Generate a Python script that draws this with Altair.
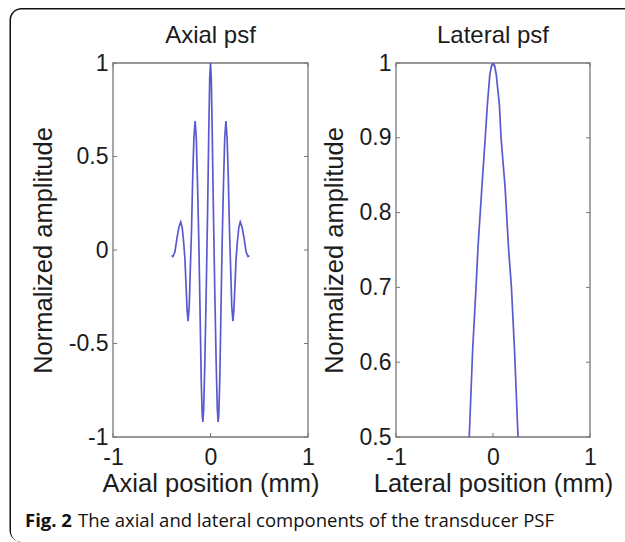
import altair as alt
import pandas as pd

# Axial point-spread function: position (mm) and normalized amplitude
axial_pos = [-0.400, -0.385, -0.365, -0.345, -0.325, -0.305, -0.290, -0.275,
             -0.262, -0.250, -0.240, -0.230, -0.218, -0.208, -0.195, -0.182,
             -0.170, -0.158, -0.146, -0.133, -0.120, -0.108, -0.095, -0.085,
             -0.078, -0.070, -0.058, -0.045, -0.030, -0.018, -0.008, 0.000,
             0.008, 0.018, 0.030, 0.045, 0.058, 0.070, 0.078, 0.085,
             0.095, 0.108, 0.120, 0.133, 0.146, 0.158, 0.170, 0.182,
             0.195, 0.208, 0.218, 0.230, 0.240, 0.250, 0.262, 0.275,
             0.290, 0.305, 0.325, 0.345, 0.365, 0.385, 0.400]
axial_amp = [-0.03, -0.035, -0.01, 0.06, 0.12, 0.15, 0.12, 0.04,
             -0.05, -0.20, -0.32, -0.38, -0.30, -0.12, 0.10, 0.40,
             0.60, 0.69, 0.60, 0.35, 0.05, -0.30, -0.70, -0.88,
             -0.92, -0.85, -0.60, -0.25, 0.20, 0.62, 0.92, 1.00,
             0.92, 0.62, 0.20, -0.25, -0.60, -0.85, -0.92, -0.88,
             -0.70, -0.30, 0.05, 0.35, 0.60, 0.69, 0.60, 0.40,
             0.10, -0.12, -0.30, -0.38, -0.32, -0.20, -0.05, 0.04,
             0.12, 0.15, 0.12, 0.06, -0.01, -0.035, -0.03]

# Lateral point-spread function: position (mm) and normalized amplitude
lateral_pos = [-0.245, -0.210, -0.175, -0.155, -0.115, -0.080, -0.058, -0.033, -0.015, 0.000,
               0.016, 0.034, 0.066, 0.083, 0.125, 0.160, 0.190, 0.222, 0.258]
lateral_amp = [0.50, 0.616, 0.70, 0.753, 0.833, 0.90, 0.944, 0.984, 0.997, 1.00,
               0.997, 0.984, 0.944, 0.90, 0.833, 0.753, 0.70, 0.616, 0.50]

x_ticks = [-1, 0, 1]
axial_yticks = [-1, -0.5, 0, 0.5, 1]
lateral_yticks = [0.5, 0.6, 0.7, 0.8, 0.9, 1]

caption_bold = "Fig. 2"
caption_text = "The axial and lateral components of the transducer PSF"

# styling
W_L, W_R, H = 195, 194, 374
LINE = "#5a5ad0"
FRAME = "#787878"
TEXT = "#1c1c1c"
FONT = "Liberation Sans"
TICK_FS = 23
TITLE_FS = 24
LABEL_FS = 25.5


def x_axis(title):
    return alt.Axis(values=x_ticks, title=title, grid=False, domain=False, ticks=False,
                    labelExpr="'' + datum.value", labelFlush=False, labelOverlap=False,
                    labelPadding=9, titlePadding=2, labelFontSize=TICK_FS,
                    titleFontSize=LABEL_FS, labelFont=FONT, titleFont=FONT,
                    titleFontWeight="normal", labelColor=TEXT, titleColor=TEXT, zindex=1)


def y_axis(values):
    return alt.Axis(values=values, title="Normalized amplitude", grid=False, domain=False,
                    ticks=False, labelExpr="'' + datum.value", labelFlush=False,
                    labelOverlap=False, labelPadding=5, titlePadding=12,
                    labelFontSize=TICK_FS, titleFontSize=LABEL_FS, labelFont=FONT,
                    titleFont=FONT, titleFontWeight="normal", labelColor=TEXT,
                    titleColor=TEXT, zindex=1)


def panel(df, ydomain, yticks, xtitle, title, width, extras=()):
    xs = alt.Scale(domain=[-1, 1], nice=False, zero=False)
    ys = alt.Scale(domain=ydomain, nice=False, zero=False)
    xa = x_axis(xtitle)
    ya = y_axis(yticks)
    one = pd.DataFrame({"k": [0]})

    frame = alt.Chart(one).mark_rect(fill=None, stroke=FRAME, strokeWidth=1.3).encode(
        x=alt.value(0), x2=alt.value(width), y=alt.value(0), y2=alt.value(H))

    heading = alt.Chart(pd.DataFrame({"t": [title]})).mark_text(
        font=FONT, fontSize=TITLE_FS, align="center", baseline="alphabetic", color=TEXT
    ).encode(text="t:N", x=alt.value(width / 2), y=alt.value(-20))

    yt = pd.DataFrame({"amp": yticks})
    xt = pd.DataFrame({"pos": x_ticks})
    ytick_l = alt.Chart(yt).mark_rule(color=FRAME, strokeWidth=1).encode(
        y=alt.Y("amp:Q", scale=ys, axis=ya), x=alt.value(0), x2=alt.value(4))
    ytick_r = alt.Chart(yt).mark_rule(color=FRAME, strokeWidth=1).encode(
        y=alt.Y("amp:Q", scale=ys, axis=ya), x=alt.value(width - 4), x2=alt.value(width))
    xtick_b = alt.Chart(xt).mark_rule(color=FRAME, strokeWidth=1).encode(
        x=alt.X("pos:Q", scale=xs, axis=xa), y=alt.value(H - 4), y2=alt.value(H))
    xtick_t = alt.Chart(xt).mark_rule(color=FRAME, strokeWidth=1).encode(
        x=alt.X("pos:Q", scale=xs, axis=xa), y=alt.value(0), y2=alt.value(4))

    line = alt.Chart(df).mark_line(color=LINE, strokeWidth=1.7, clip=True).encode(
        x=alt.X("pos:Q", scale=xs, axis=xa),
        y=alt.Y("amp:Q", scale=ys, axis=ya),
        order="i:Q",
    )
    layers = list(extras) + [heading, frame, ytick_l, ytick_r, xtick_b, xtick_t, line]
    return alt.layer(*layers).properties(width=width, height=H)


# page border and caption, placed relative to the left plot's origin (113, 63)
one = pd.DataFrame({"k": [0]})
OX, OY = 113, 63
page = alt.Chart(one).mark_rect(fill="white", stroke=None).encode(
    x=alt.value(-OX), x2=alt.value(625 - OX), y=alt.value(-OY), y2=alt.value(542 - OY))
border_outer = alt.Chart(one).mark_rect(
    fill="#111111", cornerRadiusTopLeft=12, cornerRadiusBottomLeft=12).encode(
    x=alt.value(9.5 - OX), x2=alt.value(625 - OX), y=alt.value(8 - OY), y2=alt.value(542 - OY))
border_inner = alt.Chart(one).mark_rect(
    fill="white", cornerRadiusTopLeft=10.5, cornerRadiusBottomLeft=10.5).encode(
    x=alt.value(11 - OX), x2=alt.value(625 - OX), y=alt.value(9.5 - OY), y2=alt.value(542 - OY))
cap1 = alt.Chart(pd.DataFrame({"t": [caption_bold]})).mark_text(
    font="Open Sans", fontSize=18.5, fontWeight="bold", align="left", baseline="alphabetic",
    color="#111111").encode(text="t:N", x=alt.value(25 - OX), y=alt.value(527 - OY))
cap2 = alt.Chart(pd.DataFrame({"t": [caption_text]})).mark_text(
    font="Open Sans", fontSize=18.5, align="left", baseline="alphabetic",
    color="#111111").encode(text="t:N", x=alt.value(78 - OX), y=alt.value(527 - OY))

axial_df = pd.DataFrame({"pos": axial_pos, "amp": axial_amp, "i": range(len(axial_pos))})
lateral_df = pd.DataFrame({"pos": lateral_pos, "amp": lateral_amp, "i": range(len(lateral_pos))})

left = panel(axial_df, [-1, 1], axial_yticks, "Axial position (mm)", "Axial psf", W_L,
             extras=(page, border_outer, border_inner, cap1, cap2))
right = panel(lateral_df, [0.5, 1], lateral_yticks, "Lateral position (mm)", "Lateral psf", W_R)

chart = alt.hconcat(left, right, spacing=88, bounds="flush").properties(
    padding=0
).configure(background="white").configure_view(stroke=None)

chart.save("out.html", embed_options={"renderer": "svg", "actions": False})
